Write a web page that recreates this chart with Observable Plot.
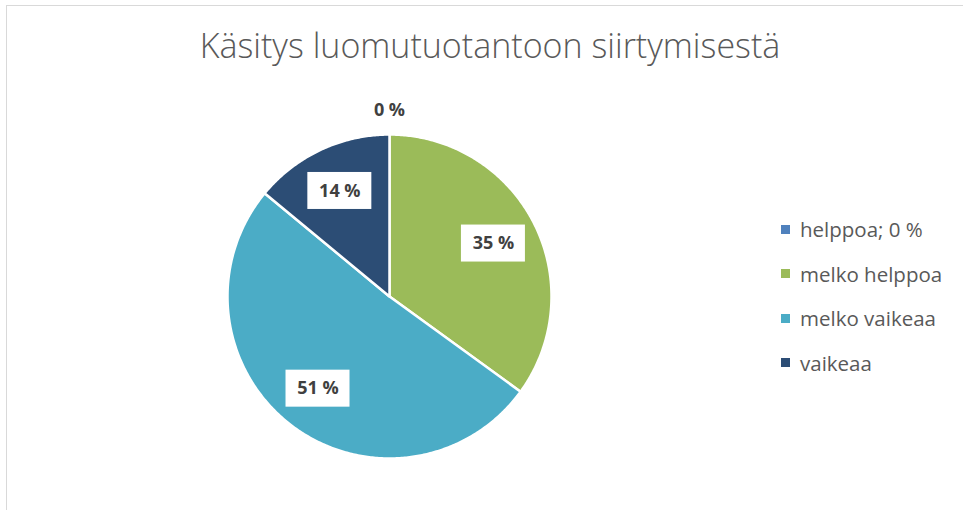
<!DOCTYPE html>
<html><head><meta charset="utf-8">
<script src="https://cdn.jsdelivr.net/npm/d3@7"></script>
<script src="https://cdn.jsdelivr.net/npm/@observablehq/plot@0.6"></script>
<style>
body{margin:0;background:#fff;}
#wrap{position:relative;width:963px;height:510px;overflow:hidden;font-family:"Open Sans",sans-serif;}
#frame{position:absolute;left:6px;top:5px;width:980px;height:600px;border:1px solid #d9d9d9;box-sizing:border-box;}
#title{position:absolute;left:0;top:22px;width:980px;text-align:center;font-size:34px;font-weight:300;color:#595959;white-space:nowrap;}
#legend{position:absolute;left:781px;top:207px;font-size:20.5px;color:#595959;}
#legend div{height:44.5px;display:flex;align-items:center;white-space:nowrap;}
#legend span.sw{display:inline-block;width:9px;height:9px;margin-right:10px;}
#chart{position:absolute;left:0;top:0;}
</style></head>
<body><div id="wrap"><div id="frame"></div><div id="chart"></div><div id="title"></div><div id="legend"></div></div>
<script>
const title = "Käsitys luomutuotantoon siirtymisestä";
const categories = ["helppoa", "melko helppoa", "melko vaikeaa", "vaikeaa"];
const values = [0, 35, 51, 14];
const legendLabels = ["helppoa; 0 %", "melko helppoa", "melko vaikeaa", "vaikeaa"];
const colors = ["#4f81bd", "#9bbb59", "#4bacc6", "#2c4d75"];

document.getElementById("title").textContent = title;
const leg = document.getElementById("legend");
legendLabels.forEach((l, i) => {
  const d = document.createElement("div");
  d.innerHTML = `<span class="sw" style="background:${colors[i]}"></span>`;
  d.appendChild(document.createTextNode(l));
  leg.appendChild(d);
});

const total = d3.sum(values);
let acc = 0;
const slices = categories.map((c, i) => {
  const a0 = acc / total * 2 * Math.PI;
  acc += values[i];
  const a1 = acc / total * 2 * Math.PI;
  return {cat: c, value: values[i], a0, a1, mid: (a0 + a1) / 2};
});
const pts = [];
for (const s of slices) {
  if (s.value <= 0) continue;
  pts.push({cat: s.cat, x: 0, y: 0});
  const n = Math.max(2, Math.ceil((s.a1 - s.a0) / 0.01));
  for (let k = 0; k <= n; k++) {
    const a = s.a0 + (s.a1 - s.a0) * k / n;
    pts.push({cat: s.cat, x: Math.sin(a), y: Math.cos(a)});
  }
}
const labels = slices.map(s => {
  const r = s.value === 0 ? 1.15 : 0.72;
  return {cat: s.cat, text: `${s.value} %`, x: r * Math.sin(s.mid), y: r * Math.cos(s.mid), boxed: s.value > 0};
});

const W = 963, H = 510, cx = 389, cy = 296, R = 162;
const plot = Plot.plot({
  width: W, height: H, margin: 0,
  x: {domain: [-cx / R, (W - cx) / R], axis: null},
  y: {domain: [-(H - cy) / R, cy / R], axis: null},
  color: {domain: categories, range: colors},
  marks: [
    Plot.line(pts, {x: "x", y: "y", z: "cat", fill: "cat", stroke: "white", strokeWidth: 2.5, curve: "linear-closed"}),
    Plot.rect(labels.filter(d => d.boxed), {fill: "white", insetLeft: -32, insetRight: -32, insetTop: -18.5, insetBottom: -18.5, x1: "x", x2: "x", y1: "y", y2: "y"}),
    Plot.text(labels, {x: "x", y: "y", text: "text", fontSize: 18, fontWeight: "bold", fill: "#404040", fontFamily: "Open Sans"})
  ]
});
document.getElementById("chart").appendChild(plot);
</script></body></html>
